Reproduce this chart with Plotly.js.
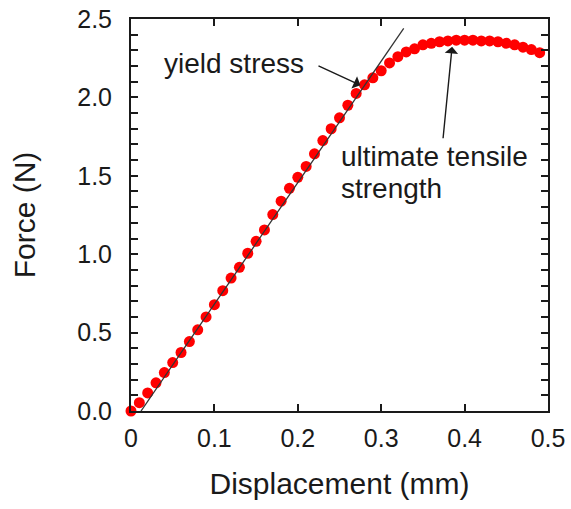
<!DOCTYPE html>
<html>
<head>
<meta charset="utf-8">
<script src="https://cdn.plot.ly/plotly-3.0.1.min.js"></script>
<style>html,body{margin:0;padding:0;background:#fff;}#chart{width:571px;height:509px;}</style>
</head>
<body>
<div id="chart"></div>
<script>
// Displacement (mm) and measured force (N)
var displacement = [0,0.01,0.02,0.03,0.04,0.05,0.06,0.07,0.08,0.09,
  0.10,0.11,0.12,0.13,0.14,0.15,0.16,0.17,0.18,0.19,
  0.20,0.21,0.22,0.23,0.24,0.25,0.26,0.27,0.28,0.29,
  0.30,0.31,0.32,0.33,0.34,0.35,0.36,0.37,0.38,0.39,
  0.40,0.41,0.42,0.43,0.44,0.45,0.46,0.47,0.48,0.49];
var force = [0,0.053,0.115,0.18,0.245,0.309,0.373,0.443,0.518,0.6,
  0.678,0.767,0.848,0.916,1.006,1.082,1.155,1.253,1.338,1.42,
  1.49,1.56,1.64,1.725,1.8,1.87,1.95,2.025,2.08,2.125,
  2.17,2.22,2.26,2.29,2.31,2.335,2.345,2.355,2.36,2.365,
  2.365,2.365,2.36,2.36,2.355,2.345,2.335,2.32,2.305,2.285];
// Linear (elastic) fit line end points
var fitX = [0.012, 0.327];
var fitY = [0, 2.44];

var xTickVals = [0,0.1,0.2,0.3,0.4,0.5];
var xTickText = ['0','0.1','0.2','0.3','0.4','0.5'];
var yTickVals = [0,0.1,0.2,0.3,0.4,0.5,0.6,0.7,0.8,0.9,1.0,1.1,1.2,1.3,1.4,1.5,1.6,1.7,1.8,1.9,2.0,2.1,2.2,2.3,2.4,2.5];
var yTickText = yTickVals.map(function(v){ return (Math.abs(v*2 - Math.round(v*2)) < 1e-6) ? v.toFixed(1) : ''; });

var yieldTip = [0.275, 2.078], yieldTail = [0.223, 2.206];
var utsTip = [0.385, 2.323], utsTail = [0.374, 1.73];

var traces = [
  {x: displacement, y: force, type: 'scatter', mode: 'markers',
   marker: {color: '#ff0000', size: 11, line: {width: 0}}, cliponaxis: false, hoverinfo: 'skip'},
  {x: fitX, y: fitY, type: 'scatter', mode: 'lines',
   line: {color: '#333333', width: 1.3}, cliponaxis: false, hoverinfo: 'skip'}
];

var fontFam = 'Liberation Sans, Arial, sans-serif';
var ink = '#1a1a1a';
var annFont = {size: 28, family: fontFam, color: ink};
var layout = {
  width: 571, height: 509,
  margin: {l: 131, r: 23, t: 19, b: 98},
  paper_bgcolor: '#ffffff', plot_bgcolor: '#ffffff',
  showlegend: false,
  font: {family: fontFam, color: ink, size: 25},
  xaxis: {
    range: [0, 0.5], tickmode: 'array', tickvals: xTickVals, ticktext: xTickText,
    ticks: 'inside', ticklen: 7, tickwidth: 2, tickcolor: ink,
    showline: true, linewidth: 2, linecolor: ink, mirror: 'ticks',
    showgrid: false, zeroline: false, ticklabelstandoff: 4,
    tickfont: {size: 25, family: fontFam, color: ink},
    title: {text: 'Displacement (mm)', font: {size: 30, family: fontFam, color: ink}, standoff: 22}
  },
  yaxis: {
    range: [0, 2.5], tickmode: 'array', tickvals: yTickVals, ticktext: yTickText,
    ticks: 'inside', ticklen: 7, tickwidth: 2, tickcolor: ink,
    showline: true, linewidth: 2, linecolor: ink, mirror: 'ticks',
    showgrid: false, zeroline: false, ticklabelstandoff: 12,
    tickfont: {size: 25, family: fontFam, color: ink},
    title: {text: 'Force (N)', font: {size: 30, family: fontFam, color: ink}, standoff: 33}
  },
  annotations: [
    {x: yieldTip[0], y: yieldTip[1], ax: yieldTail[0], ay: yieldTail[1], axref: 'x', ayref: 'y',
     xref: 'x', yref: 'y', text: '', showarrow: true, arrowhead: 1, arrowsize: 1.6, arrowwidth: 1.4, arrowcolor: ink},
    {x: utsTip[0], y: utsTip[1], ax: utsTail[0], ay: utsTail[1], axref: 'x', ayref: 'y',
     xref: 'x', yref: 'y', text: '', showarrow: true, arrowhead: 1, arrowsize: 1.6, arrowwidth: 1.4, arrowcolor: ink},
    {x: 0.037, y: 2.219, xref: 'x', yref: 'y', xanchor: 'left', yanchor: 'middle', showarrow: false,
     text: 'yield stress', font: annFont},
    {x: 0.249, y: 1.624, xref: 'x', yref: 'y', xanchor: 'left', yanchor: 'middle', showarrow: false,
     text: 'ultimate tensile', font: annFont},
    {x: 0.249, y: 1.419, xref: 'x', yref: 'y', xanchor: 'left', yanchor: 'middle', showarrow: false,
     text: 'strength', font: annFont}
  ]
};

Plotly.newPlot('chart', traces, layout, {displayModeBar: false, staticPlot: true});
</script>
</body>
</html>
